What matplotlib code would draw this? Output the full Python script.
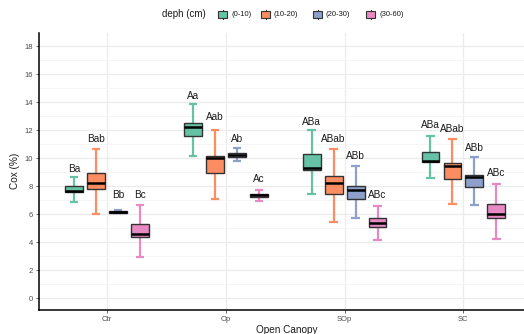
import numpy as np
import matplotlib
matplotlib.use("Agg")
import matplotlib.pyplot as plt
from matplotlib.patches import Rectangle

plt.rcParams['font.family'] = ['Liberation Sans', 'DejaVu Sans']

# sites and depth classes
sites = ['Ctr', 'Op', 'SOp', 'SC']
depths = ['(0-10)', '(10-20)', '(20-30)', '(30-60)']
colors = ['#66C2A5', '#FC8D62', '#8DA0CB', '#E78AC3']

# box statistics, one row per depth class, columns follow sites
whis_hi = [[8.66, 13.83, 12.02, 11.55],
           [10.64, 11.98, 10.64, 11.36],
           [6.29, 10.71, 9.40, 10.05],
           [6.64, 7.71, 6.60, 8.17]]
q3 = [[7.98, 12.48, 10.29, 10.45],
      [8.90, 10.14, 8.69, 9.62],
      [6.21, 10.38, 8.02, 8.81],
      [5.26, 7.43, 5.69, 6.71]]
med = [[7.67, 12.24, 9.31, 9.81],
       [8.19, 10.00, 8.21, 9.43],
       [6.17, 10.24, 7.74, 8.62],
       [4.59, 7.33, 5.38, 6.00]]
q1 = [[7.55, 11.55, 9.17, 9.71],
      [7.79, 8.90, 7.40, 8.48],
      [6.10, 10.10, 7.05, 7.93],
      [4.33, 7.24, 5.05, 5.74]]
whis_lo = [[6.83, 10.12, 7.43, 8.57],
           [6.00, 7.07, 5.45, 6.69],
           [6.05, 9.79, 5.69, 6.62],
           [2.95, 6.93, 4.17, 4.24]]

# significance letters and their heights
letters = [['Ba', 'Aa', 'ABa', 'ABa'],
           ['Bab', 'Aab', 'ABab', 'ABab'],
           ['Bb', 'Ab', 'ABb', 'ABb'],
           ['Bc', 'Ac', 'ABc', 'ABc']]
letter_y = [[9.21, 14.43, 12.60, 12.36],
            [11.38, 12.95, 11.33, 12.05],
            [7.36, 11.38, 10.12, 10.71],
            [7.36, 8.48, 7.36, 8.90]]

W, H = 524, 334
fig = plt.figure(figsize=(W / 100, H / 100), dpi=100)
# panel runs past the right edge of the figure
ax = fig.add_axes([39.3 / W, 24 / H, 495.4 / W, 277.3 / H])

dodge = 0.185
box_w = 0.15
cap_w = 0.07
x0 = np.arange(len(sites))

for d in range(len(depths)):
    xs = x0 + (d - 1.5) * dodge
    for i, x in enumerate(xs):
        ax.vlines(x, whis_lo[d][i], whis_hi[d][i], color=colors[d], lw=1.6, zorder=2)
        ax.hlines([whis_lo[d][i], whis_hi[d][i]], x - cap_w / 2, x + cap_w / 2,
                  color=colors[d], lw=1.6, zorder=2)
        ax.add_patch(Rectangle((x - box_w / 2, q1[d][i]), box_w, q3[d][i] - q1[d][i],
                               facecolor=colors[d], edgecolor='#333333', lw=1.0, zorder=3))
        ax.hlines(med[d][i], x - box_w / 2, x + box_w / 2, color='black', lw=1.8, zorder=4)
        ax.text(x, letter_y[d][i], letters[d][i], ha='center', va='center',
                fontsize=7.2, color='#1a1a1a', zorder=5)

ax.set_xlim(-0.57, 3.6)
ax.set_ylim(-0.857, 18.95)
ax.set_xticks(x0)
ax.set_xticklabels(sites)
ax.set_yticks(np.arange(0, 19, 2))
ax.set_yticks(np.arange(1, 19, 2), minor=True)
ax.grid(True, which='major', color='#EBEBEB', lw=0.9, zorder=0)
ax.grid(True, which='minor', axis='y', color='#F4F4F4', lw=0.6, zorder=0)
ax.set_axisbelow(True)

for s in ['top', 'right']:
    ax.spines[s].set_visible(False)
for s in ['left', 'bottom']:
    ax.spines[s].set_color('black')
    ax.spines[s].set_linewidth(1.1)

ax.tick_params(axis='both', which='major', labelsize=5.5, labelcolor='#4D4D4D',
               color='#4D4D4D', length=2.5, width=0.6, pad=2)
ax.tick_params(axis='y', which='minor', length=0)
ax.set_xlabel('Open Canopy', fontsize=7.2, labelpad=1, color='#1a1a1a')
ax.set_ylabel('Cox (%)', fontsize=7.2, labelpad=3, color='#1a1a1a')


# legend along the top, built in pixel units
def fx(px):
    return px / W


def fy(py):
    return 1 - py / H


ly = 14.3
fig.text(fx(162), fy(ly), 'deph (cm)', fontsize=7, ha='left', va='center', color='#1a1a1a')
key_x = [218, 261, 313, 366]
for d in range(len(depths)):
    kx = key_x[d]
    fig.patches.append(Rectangle((fx(kx), fy(ly + 3.2)), fx(9), 6.4 / H, transform=fig.transFigure,
                                 facecolor=colors[d], edgecolor='#333333', lw=0.8))
    fig.lines.append(plt.Line2D([fx(kx + 4.5)] * 2, [fy(ly - 4.5), fy(ly - 3.2)],
                                transform=fig.transFigure, color='#333333', lw=0.8))
    fig.lines.append(plt.Line2D([fx(kx + 4.5)] * 2, [fy(ly + 3.2), fy(ly + 4.5)],
                                transform=fig.transFigure, color='#333333', lw=0.8))
    fig.text(fx(kx + 13), fy(ly), depths[d], fontsize=5.5, ha='left', va='center', color='#1a1a1a')

fig.savefig('out.png', dpi=100)
